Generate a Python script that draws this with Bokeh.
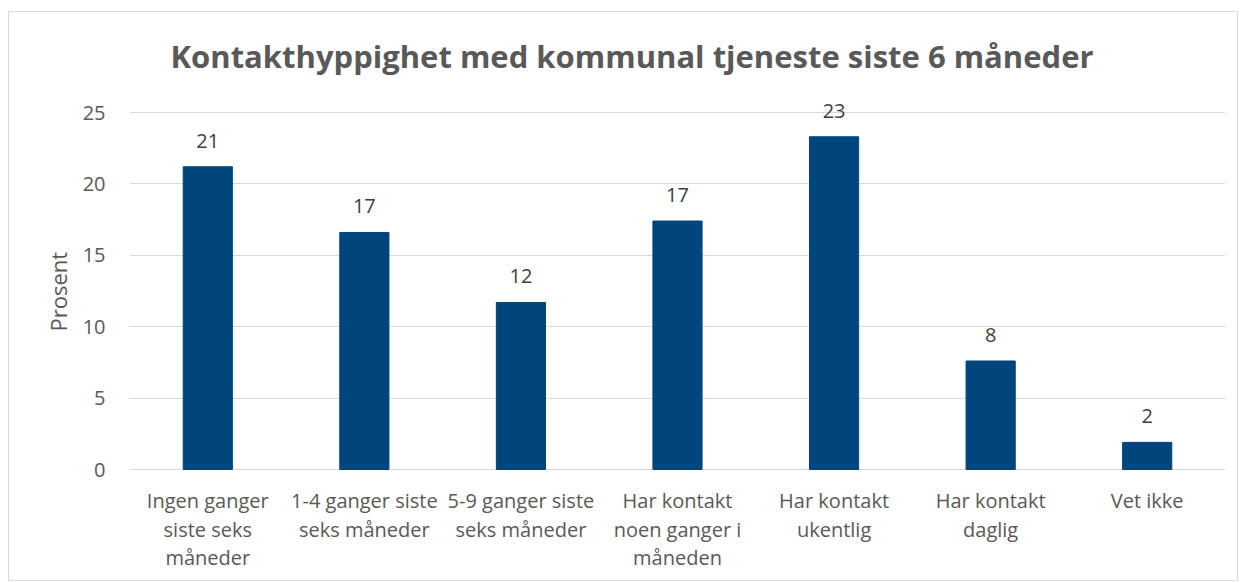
from bokeh.plotting import figure
from bokeh.models import ColumnDataSource, Range1d, FixedTicker, LabelSet, Title
from bokeh.core.properties import value
from bokeh.embed import file_html
from bokeh.resources import INLINE

categories = ["Ingen ganger siste seks måneder", "1-4 ganger siste seks måneder",
              "5-9 ganger siste seks måneder", "Har kontakt noen ganger i måneden",
              "Har kontakt ukentlig", "Har kontakt daglig", "Vet ikke"]
axis_labels = ["Ingen ganger\nsiste seks\nmåneder", "1-4 ganger siste\nseks måneder",
               "5-9 ganger siste\nseks måneder", "Har kontakt\nnoen ganger i\nmåneden",
               "Har kontakt\nukentlig", "Har kontakt\ndaglig", "Vet ikke"]
values = [21.2, 16.6, 11.7, 17.4, 23.3, 7.6, 1.9]
value_labels = [str(int(round(v))) for v in values]
y_ticks = [0, 5, 10, 15, 20, 25]

FONT = "Open Sans"
GREY = "#595959"

# layout: 0..25 spans 357 px; frame extended below/above for labels
PX_PER_UNIT = 357 / 25
Y_START = -(576 - 468) / PX_PER_UNIT
Y_END = 25 + (110 - 95) / PX_PER_UNIT

src = ColumnDataSource(dict(cat=categories, val=values, lab=value_labels))

# multi-line category labels, one row per text line
LINE_START, LINE_STEP = -31, -28.5
lx, lt, lo = [], [], []
for c, lab in zip(categories, axis_labels):
    for i, line in enumerate(lab.split("\n")):
        lx.append(c)
        lt.append(line)
        lo.append(LINE_START + LINE_STEP * i)
cat_src = ColumnDataSource(dict(x=lx, t=lt, y=[0] * len(lx), off=lo))

p = figure(x_range=categories, y_range=Range1d(Y_START, Y_END), width=1230, height=570,
           output_backend="svg", toolbar_location=None,
           min_border_left=120, min_border_right=14, min_border_top=84, min_border_bottom=5)
p.margin = (11, 0, 0, 8)
p.styles = {"border": "1px solid #d9d9d9"}

p.vbar(x="cat", top="val", width=0.314, source=src, color="#00457C")

labels = LabelSet(x="cat", y="val", text="lab", source=src, text_align="center",
                  text_baseline="bottom", y_offset=19, text_font=value(FONT),
                  text_font_size="20px", text_color="#404040")
p.add_layout(labels)

cat_labels = LabelSet(x="x", y="y", text="t", y_offset="off", source=cat_src,
                      text_align="center", text_baseline="middle", text_font=value(FONT),
                      text_font_size="20px", text_color=GREY)
p.add_layout(cat_labels)

p.title.text = "Kontakthyppighet med kommunal tjeneste siste 6 måneder"
p.title.align = "left"
p.title.text_font = FONT
p.title.text_font_size = "31px"
p.title.text_font_style = "bold"
p.title.text_color = GREY
p.title.offset = 41
p.title.standoff = 41

p.outline_line_color = None
p.xgrid.grid_line_color = None
p.ygrid.grid_line_color = "#d9d9d9"
p.ygrid.grid_line_width = 1

p.yaxis.ticker = FixedTicker(ticks=y_ticks)
p.yaxis.axis_line_color = None
p.yaxis.major_tick_line_color = None
p.yaxis.minor_tick_line_color = None
p.yaxis.major_label_text_font = FONT
p.yaxis.major_label_text_font_size = "20px"
p.yaxis.major_label_text_color = GREY
p.yaxis.major_label_standoff = 18

ylab = Title(text="Prosent", align="left", offset=246, standoff=14,
             text_font=FONT, text_font_size="22px", text_font_style="normal",
             text_color=GREY)
p.add_layout(ylab, "left")

p.xaxis.visible = False

open("out.html", "w").write(file_html(p, INLINE))
